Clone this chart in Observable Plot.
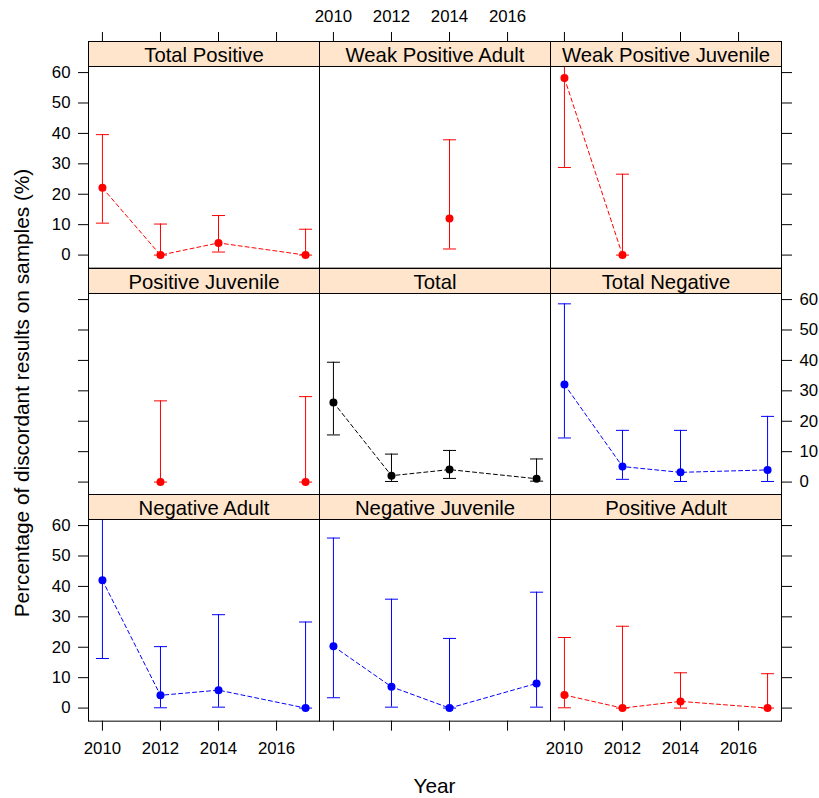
<!DOCTYPE html>
<html>
<head>
<meta charset="utf-8">
<script src="https://cdn.jsdelivr.net/npm/d3@7"></script>
<script src="https://cdn.jsdelivr.net/npm/@observablehq/plot@0.6"></script>
<style>
  html, body { margin: 0; padding: 0; background: white; }
  #chart { position: relative; width: 819px; height: 798px; overflow: hidden; font-family: "Liberation Sans", Arial, sans-serif; color: black; }
  #chart svg { position: absolute; }
  .ytitle { position: absolute; left: 22px; top: 393px; transform: translate(-50%, -50%) rotate(-90deg); white-space: nowrap; font-size: 20.8px; }
  .xtitle { position: absolute; left: 434.5px; top: 786px; transform: translate(-50%, -50%); white-space: nowrap; font-size: 20.8px; }
</style>
</head>
<body>
<div id="chart"></div>
<script>
// ---------------- data ----------------
const years = [2010, 2012, 2014, 2017];
const panelNames = [
  "Total Positive", "Weak Positive Adult", "Weak Positive Juvenile",
  "Positive Juvenile", "Total", "Total Negative",
  "Negative Adult", "Negative Juvenile", "Positive Adult"
];
const panelGroups = [
  "Positive", "Positive", "Positive",
  "Positive", "Total", "Negative",
  "Negative", "Negative", "Positive"
];
// point estimates (%), one row per panel, one value per year (null = no data)
const estimate = [
  [22.1, 0, 4.0, 0],
  [null, null, 12.0, null],
  [58.2, 0, null, null],
  [null, 0, null, 0],
  [26.2, 2.1, 4.1, 1.1],
  [32.1, 5.1, 3.2, 4.0],
  [42.0, 4.2, 5.9, 0],
  [20.3, 7.0, 0, 8.1],
  [4.3, 0, 2.2, 0]
];
const lower = [
  [10.5, 0, 1.0, 0],
  [null, null, 2.0, null],
  [28.8, 0, null, null],
  [null, 0, null, 0],
  [15.5, 0.2, 1.2, 0.3],
  [14.5, 0.9, 0.2, 0.2],
  [16.3, 0.1, 0.3, 0],
  [3.4, 0.3, 0, 0.3],
  [0.1, 0, 0, 0]
];
const upper = [
  [39.6, 10.2, 13.0, 8.5],
  [null, null, 37.9, null],
  [84.8, 26.6, null, null],
  [null, 26.7, null, 28.1],
  [39.4, 9.2, 10.4, 7.6],
  [58.6, 17.0, 17.0, 21.6],
  [71.0, 20.2, 30.7, 28.3],
  [55.9, 35.8, 22.9, 38.1],
  [23.2, 26.9, 11.6, 11.3]
];
const yTicks = [0, 10, 20, 30, 40, 50, 60];
const xTicks = [2010, 2012, 2014, 2016];
const yTitle = "Percentage of discordant results on samples (%)";
const xTitle = "Year";

// ---------------- styling / layout ----------------
const groupColors = {Positive: "#ff0000", Negative: "#0000ff", Total: "#000000"};
const FONT = '"Liberation Sans", Arial, sans-serif';
const M = 50;
const CELL_W = 231, CELL_H = 226.67;
const LEFT0 = 88, TOP0 = 41;
const X_MIN = 2009.52, X_MAX = 2017.48;
const Y_MIN = -4.3, Y_CELL_TOP = 70.22;
const STRIP_H = 25;
const Y_PANEL_TOP = Y_CELL_TOP - STRIP_H * (Y_CELL_TOP - Y_MIN) / CELL_H;
const CAP = 6.5;
const capSymbol = {draw(ctx) { ctx.moveTo(-CAP, 0); ctx.lineTo(CAP, 0); }};

const chart = document.getElementById("chart");

function yAxis(anchor, labeled) {
  const o = {anchor, tickSize: 10, tickPadding: 8, fontSize: 16.8, label: null, tickFormat: "d", stroke: "black"};
  if (!labeled) o.fill = "none";
  return Plot.axisY(yTicks, o);
}
function xAxis(anchor, labeled) {
  const o = {anchor, tickSize: 10, tickPadding: anchor === "top" ? 9 : 11, fontSize: 16.8, label: null, tickFormat: "d", stroke: "black"};
  if (!labeled) o.fill = "none";
  return Plot.axisX(xTicks, o);
}

panelNames.forEach((name, i) => {
  const r = Math.floor(i / 3), c = i % 3;
  const col = groupColors[panelGroups[i]];
  const rows = years.map((year, j) => ({year, est: estimate[i][j], lo: lower[i][j], hi: upper[i][j]}));
  const present = rows.filter(d => d.est != null);
  const marks = [
    Plot.rect([name], {x1: X_MIN, x2: X_MAX, y1: Y_PANEL_TOP, y2: Y_CELL_TOP, fill: "#ffe5cc"}),
    Plot.text([name], {x: (X_MIN + X_MAX) / 2, y: (Y_PANEL_TOP + Y_CELL_TOP) / 2, text: d => d, fontSize: 20.3, dy: 1.5, fill: "black"}),
    Plot.ruleX(present, {x: "year", y1: "lo", y2: d => Math.min(d.hi, Y_PANEL_TOP), stroke: col, strokeWidth: 1}),
    Plot.dot(present, {x: "year", y: "lo", symbol: capSymbol, stroke: col, fill: "none", strokeWidth: 1}),
    Plot.dot(present.filter(d => d.hi <= Y_PANEL_TOP), {x: "year", y: "hi", symbol: capSymbol, stroke: col, fill: "none", strokeWidth: 1}),
    Plot.line(rows, {x: "year", y: "est", stroke: col, strokeWidth: 1, strokeDasharray: "4,3"}),
    Plot.dot(present, {x: "year", y: "est", r: 4, fill: col, stroke: "none"}),
    Plot.ruleY([Y_PANEL_TOP], {stroke: "black", strokeWidth: 1}),
    Plot.frame({stroke: "black", strokeWidth: 1})
  ];
  // lattice-style alternating axes: ticks on every outer edge, labels alternate
  if (c === 0) marks.push(yAxis("left", r !== 1));
  if (c === 2) marks.push(yAxis("right", r === 1));
  if (r === 0) marks.push(xAxis("top", c === 1));
  if (r === 2) marks.push(xAxis("bottom", c !== 1));

  const svg = Plot.plot({
    width: CELL_W + 2 * M,
    height: CELL_H + 2 * M,
    marginLeft: M, marginRight: M, marginTop: M, marginBottom: M,
    x: {domain: [X_MIN, X_MAX], axis: null},
    y: {domain: [Y_MIN, Y_CELL_TOP], axis: null},
    style: {background: "transparent", overflow: "visible", fontFamily: FONT, fontSize: "16.8px", color: "black"},
    marks
  });
  svg.style.left = (LEFT0 + c * CELL_W - M) + "px";
  svg.style.top = (TOP0 + r * CELL_H - M) + "px";
  svg.style.maxWidth = "none";
  chart.appendChild(svg);
});

const yt = document.createElement("div");
yt.className = "ytitle";
yt.textContent = yTitle;
chart.appendChild(yt);
const xt = document.createElement("div");
xt.className = "xtitle";
xt.textContent = xTitle;
chart.appendChild(xt);
</script>
</body>
</html>
